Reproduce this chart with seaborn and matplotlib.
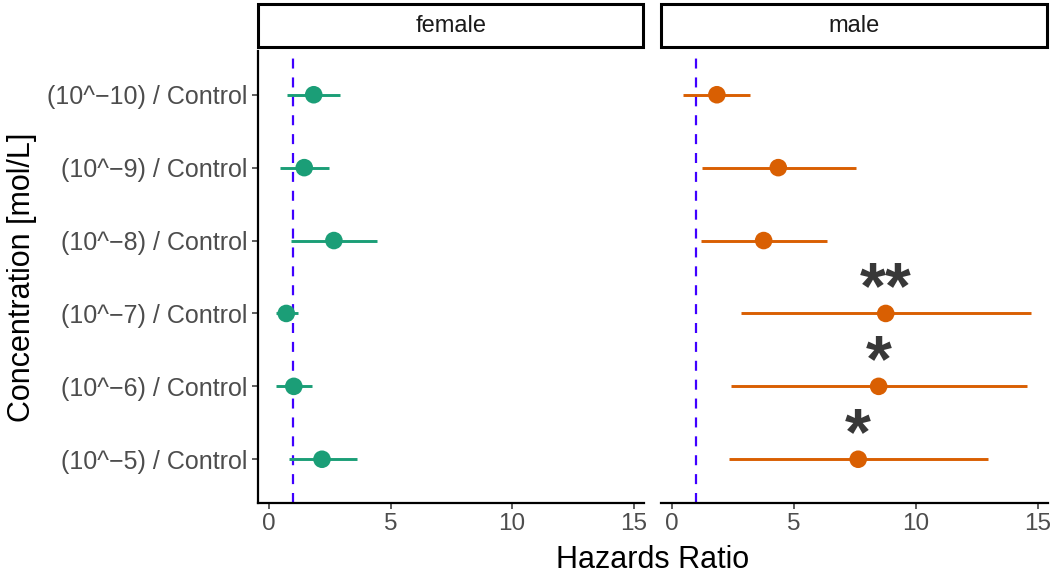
import numpy as np
import pandas as pd
import matplotlib
matplotlib.use("Agg")
import matplotlib.pyplot as plt
from matplotlib.patches import Rectangle
import seaborn as sns

# ---- data ----
concentrations = ["(10^\u221210) / Control", "(10^\u22129) / Control", "(10^\u22128) / Control",
                  "(10^\u22127) / Control", "(10^\u22126) / Control", "(10^\u22125) / Control"]
female_hr = [1.84, 1.45, 2.67, 0.71, 1.02, 2.18]
female_lo = [0.75, 0.47, 0.91, 0.28, 0.30, 0.81]
female_hi = [2.93, 2.46, 4.46, 1.18, 1.77, 3.61]
male_hr = [1.84, 4.36, 3.76, 8.77, 8.48, 7.64]
male_lo = [0.47, 1.21, 1.18, 2.81, 2.40, 2.35]
male_hi = [3.21, 7.53, 6.37, 14.73, 14.55, 12.95]
male_stars = ["", "", "", "**", "*", "*"]
sexes = ["female", "male"]
x_ticks = [0, 5, 10, 15]
ref_line = 1

df = pd.DataFrame({
    "sex": ["female"] * 6 + ["male"] * 6,
    "conc": concentrations * 2,
    "hr": female_hr + male_hr,
    "lo": female_lo + male_lo,
    "hi": female_hi + male_hi,
    "star": [""] * 6 + male_stars,
})
df["ypos"] = df["conc"].map({c: i for i, c in enumerate(concentrations)})

colors = {"female": "#1B9E77", "male": "#D95F02"}

sns.set_theme(style="white")
plt.rcParams["font.family"] = ["Liberation Sans", "DejaVu Sans"]

W, H = 1052, 578
fig = plt.figure(figsize=(W / 100, H / 100), dpi=100)

panel_x = [(258, 644), (661, 1048)]
ytop, ybot = 51, 503
strip_top, strip_bot = 4, 47

axes = []
for i, sex in enumerate(sexes):
    x0, x1 = panel_x[i]
    ax = fig.add_axes([x0 / W, (H - ybot) / H, (x1 - x0) / W, (ybot - ytop) / H])
    axes.append(ax)
    sub = df[df["sex"] == sex]
    ax.axvline(ref_line, color="#3F00FF", linestyle=(0, (4.5, 4.0)), linewidth=1.6, zorder=1)
    ax.hlines(sub["ypos"], sub["lo"], sub["hi"], color=colors[sex], linewidth=2.1, zorder=2)
    sns.scatterplot(data=sub, x="hr", y="ypos", color=colors[sex], s=160,
                    edgecolor="none", ax=ax, zorder=3, legend=False)
    for _, r in sub.iterrows():
        if r["star"]:
            ax.text(r["hr"], r["ypos"] - 0.07, r["star"], ha="center", va="baseline",
                    fontsize=48, fontweight="bold", color="#383838", zorder=4)
    ax.set_xlim(-0.453, 15.43)
    ax.set_ylim(len(concentrations) - 0.4, -0.6)
    ax.set_xticks(x_ticks)
    ax.set_xticklabels([str(t) for t in x_ticks])
    ax.set_xlabel("")
    ax.set_ylabel("")
    for s in ["top", "right"]:
        ax.spines[s].set_visible(False)
    ax.spines["bottom"].set_linewidth(1.6)
    ax.spines["bottom"].set_color("black")
    ax.tick_params(axis="x", length=4.5, width=1.1, color="#333333", labelsize=17.5,
                   labelcolor="#4D4D4D", pad=2.5, bottom=True)
    if i == 0:
        ax.spines["left"].set_linewidth(1.6)
        ax.spines["left"].set_color("black")
        ax.set_yticks(range(len(concentrations)))
        ax.set_yticklabels(concentrations)
        ax.tick_params(axis="y", length=4.5, width=1.1, color="#333333", labelsize=18,
                       labelcolor="#4D4D4D", pad=3, left=True)
    else:
        ax.spines["left"].set_visible(False)
        ax.set_yticks([])
    # strip
    fig.add_artist(Rectangle((x0 / W, (H - strip_bot) / H), (x1 - 1 - x0) / W,
                             (strip_bot - strip_top) / H, transform=fig.transFigure,
                             facecolor="white", edgecolor="black", linewidth=2.2))
    fig.text((x0 + x1) / 2 / W, (H - (strip_top + strip_bot) / 2) / H, sex,
             ha="center", va="center", fontsize=17, color="#1A1A1A")

fig.text((258 + 1048) / 2 / W, (H - 560) / H, "Hazards Ratio", ha="center", va="center",
         fontsize=22, color="black")
fig.text(22 / W, (H - (ytop + ybot) / 2) / H, "Concentration [mol/L]", ha="center",
         va="center", rotation=90, fontsize=22, color="black")

fig.savefig("out.png", dpi=100)
